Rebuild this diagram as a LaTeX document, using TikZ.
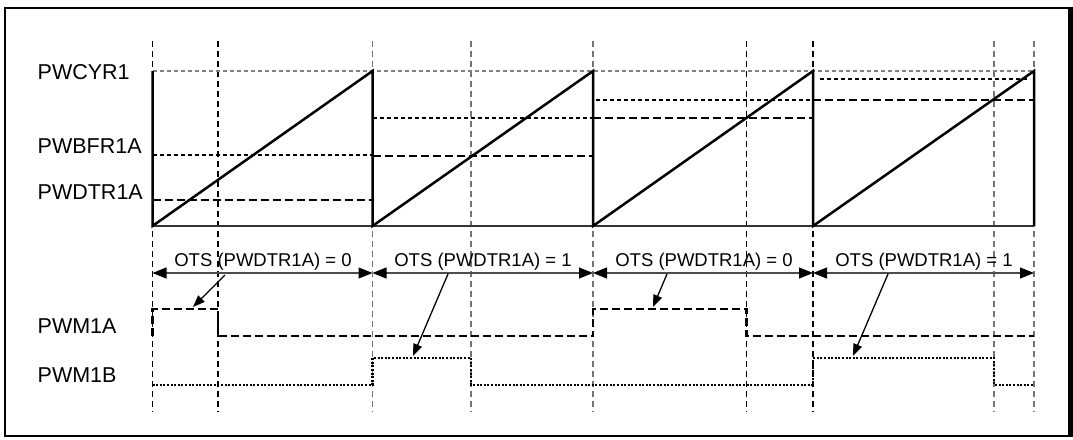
\documentclass[tikz,border=0pt]{standalone}
\usepackage{fontspec}
\setmainfont{Liberation Sans}
\usetikzlibrary{arrows.meta}
\begin{document}
\begin{tikzpicture}[x=1pt,y=-1pt,
  guidedark/.style={line width=1.1pt, black, dash pattern=on 6pt off 4pt},
  guidelight/.style={line width=1.1pt, black!55, dash pattern=on 6pt off 4pt},
  toplevel/.style={line width=1.1pt, black!50, dash pattern=on 4pt off 3pt},
  baseline/.style={line width=1.2pt, black!80},
  ramp/.style={line width=2.5pt, black, line join=miter},
  buflevel/.style={line width=2.5pt, black, dash pattern=on 4pt off 3pt},
  dtrlevel/.style={line width=2.6pt, black, dash pattern=on 8pt off 4pt},
  pwma/.style={line width=2.6pt, black, dash pattern=on 8pt off 4pt},
  pwmb/.style={line width=2.4pt, black, dash pattern=on 2pt off 1.6pt},
  span/.style={line width=1.1pt, black!70, {Triangle[length=14pt,width=11pt,black]}-{Triangle[length=14pt,width=11pt,black]}},
  pointer/.style={line width=1.3pt, black, -{Triangle[length=12pt,width=9pt]}},
  lbl/.style={inner sep=0pt, anchor=base west, font=\fontsize{21.5}{24}\selectfont},
  ots/.style={inner sep=0pt, anchor=base, font=\fontsize{18.5}{22}\selectfont}]
\useasboundingbox (0,0) rectangle (1073,439);
% frame
\draw[line width=2.6pt] (5,8) rectangle (1069.5,436);
\draw[line width=4pt] (1070.5,6.7) -- (1070.5,437.3);
% guides
\foreach \x in {152.5,218,746.5,813}
  \draw[guidedark] (\x,41) -- (\x,412);
\foreach \x in {372.5,471,593,994,1034}
  \draw[guidelight] (\x,41) -- (\x,412);
% top and bottom reference lines
\draw[toplevel] (152.5,71) -- (1034,71);
\draw[baseline] (152.5,226) -- (1034,226);
% compare levels
\draw[buflevel] (152.5,155) -- (372.5,155);
\draw[dtrlevel] (152.5,200) -- (372.5,200);
\draw[buflevel] (372.5,118) -- (593,118);
\draw[dtrlevel] (372.5,156) -- (593,156);
\draw[buflevel] (596,100) -- (813,100);
\draw[dtrlevel] (593,118) -- (813,118);
\draw[buflevel] (820,79) -- (1030,79);
\draw[dtrlevel] (813,100) -- (1034,100);
% sawtooth
\draw[ramp] (152.5,71) -- (152.5,226) -- (372.5,71) -- (372.5,226) -- (593,71) -- (593,226) -- (813,71) -- (813,226) -- (1034,71) -- (1034,226);
% labels
\node[lbl] (lcyr) at (37.5,79) {PWCYR1};
\node[lbl] (lbfr) at (37.5,153) {PWBFR1A};
\node[lbl] (ldtr) at (37.5,199) {PWDTR1A};
\node[lbl] (lpwma) at (37.5,333) {PWM1A};
\node[lbl] (lpwmb) at (37.5,382) {PWM1B};
% spans
\coordinate (s0) at (152.5,273);
\coordinate (s1) at (372.5,273);
\coordinate (s2) at (593,273);
\coordinate (s3) at (813,273);
\coordinate (s4) at (1034,273);
\draw[span] (s0) -- (s1);
\draw[span] (s1) -- (s2);
\draw[span] (s2) -- (s3);
\draw[span] (s3) -- (s4);
\node[ots] (o1) at (263,266) {OTS (PWDTR1A) = 0};
\node[ots] (o2) at (483,266) {OTS (PWDTR1A) = 1};
\node[ots] (o3) at (704,266) {OTS (PWDTR1A) = 0};
\node[ots] (o4) at (924,266) {OTS (PWDTR1A) = 1};
% PWM outputs
\draw[pwma] (152.5,336) -- (152.5,309) -- (218,309) -- (218,336) -- (593,336) -- (593,309) -- (746.5,309) -- (746.5,336) -- (1034,336);
\draw[pwmb] (152.5,385) -- (372.5,385) -- (372.5,358) -- (471,358) -- (471,385) -- (813,385) -- (813,358) -- (994,358) -- (994,385) -- (1034,385);
% pointers
\coordinate (p1a) at (225,275);
\coordinate (p1b) at (193,307);
\coordinate (p2a) at (448,274);
\coordinate (p2b) at (413,356);
\coordinate (p3a) at (667,274);
\coordinate (p3b) at (653,307);
\coordinate (p4a) at (888,274);
\coordinate (p4b) at (853,356);
\draw[pointer] (p1a) -- (p1b);
\draw[pointer] (p2a) -- (p2b);
\draw[pointer] (p3a) -- (p3b);
\draw[pointer] (p4a) -- (p4b);
\end{tikzpicture}
\end{document}
